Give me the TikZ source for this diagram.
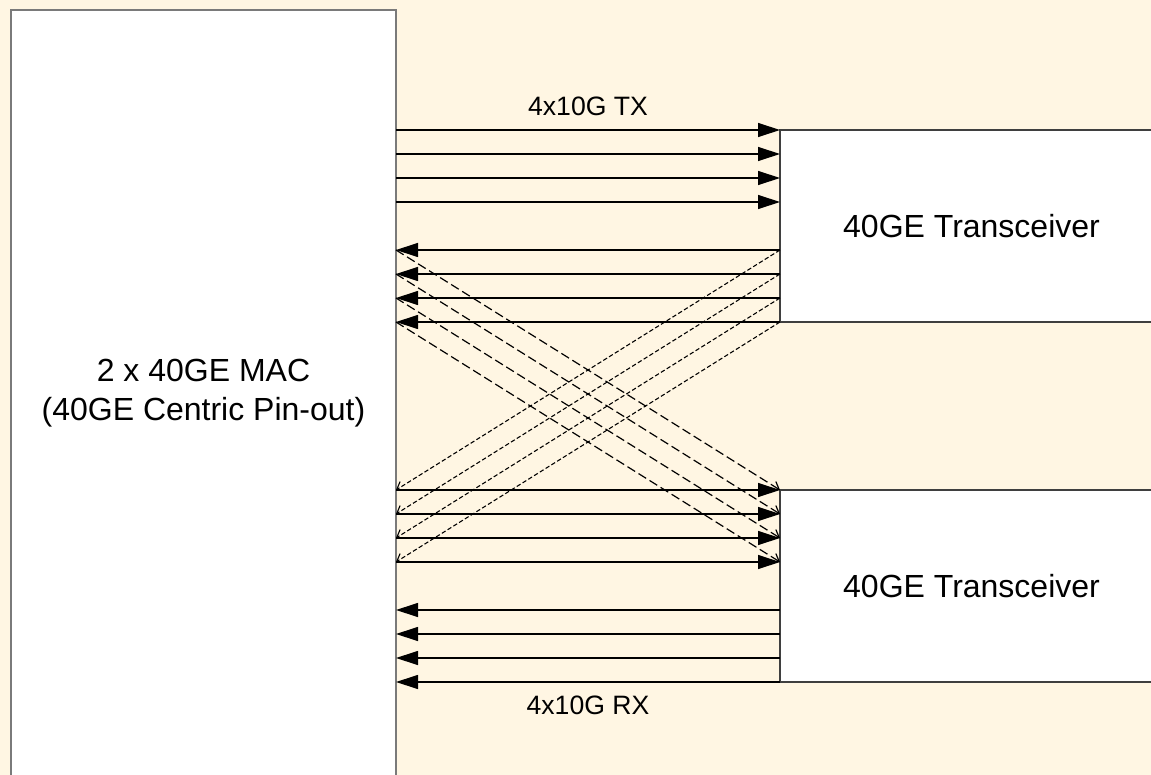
\documentclass[tikz,border=0pt]{standalone}
\usepackage{fontspec}
\setmainfont{Liberation Sans}
\usetikzlibrary{arrows.meta,calc}
\definecolor{bg}{HTML}{FFF6E3}
\definecolor{macedge}{HTML}{7A7A7A}
\definecolor{boxedge}{HTML}{3F3F3F}
\begin{document}
\begin{tikzpicture}[x=0.5pt,y=-0.5pt,
  macbox/.style={draw=macedge, line width=1pt, fill=white, anchor=north west,
    inner sep=0pt, outer sep=0pt, minimum width=192.5pt, minimum height=390pt},
  trbox/.style={draw=boxedge, line width=0.55pt, fill=white, anchor=north west,
    inner sep=0pt, outer sep=0pt, minimum width=191.5pt, minimum height=96pt,
    font=\fontsize{16}{19.5}\selectfont},
  bigtext/.style={font=\fontsize{16}{19.5}\selectfont, align=center, inner sep=0pt},
  smalltext/.style={font=\fontsize{13.3}{16}\selectfont, inner sep=0pt},
  solidarr/.style={draw=black, line width=0.6pt, -{Triangle[length=11pt,width=7pt]}},
  longdash/.style={draw=black, line width=0.6pt, dash pattern=on 4.5pt off 2pt,
    -{Straight Barb[length=3.5pt,width=5pt]}},
  shortdash/.style={draw=black, line width=0.55pt, dash pattern=on 2.2pt off 1.2pt,
    -{Straight Barb[length=3.5pt,width=5pt]}}]
\useasboundingbox (0,0) rectangle (1151,775);
\fill[bg] (0,0) rectangle (1151,775);
\clip (0,0) rectangle (1151,775);

% boxes
\node[macbox] (mac) at (11,10) {};
\node[bigtext] (mactext) at (203.5,393.5) {2 x 40GE MAC\\(40GE Centric Pin-out)};
\node[trbox] (tr1) at (780,130) {40GE Transceiver};
\node[trbox] (tr2) at (780,490) {40GE Transceiver};

% labels
\node[smalltext] (txlabel) at (588,106.5) {4x10G TX};
\node[smalltext] (rxlabel) at (588,705) {4x10G RX};

% ports on the transceivers
\foreach \i in {0,...,8} {
  \coordinate (a\i) at ($(tr1.north west)!\i/8!(tr1.south west)$);
  \coordinate (b\i) at ($(tr2.north west)!\i/8!(tr2.south west)$);
}

% solid connections
\foreach \i in {0,...,3} {
  \draw[solidarr] (mac.east |- a\i) -- (a\i);
  \draw[solidarr] (mac.east |- b\i) -- (b\i);
}
\foreach \i in {5,...,8} {
  \draw[solidarr] (a\i) -- (mac.east |- a\i);
  \draw[solidarr] (b\i) -- (mac.east |- b\i);
}

% crossed dashed connections
\foreach \i in {0,...,3} {
  \pgfmathtruncatemacro{\j}{\i+5}
  \draw[longdash] (mac.east |- a\j) -- (b\i);
  \draw[shortdash] (a\j) -- (mac.east |- b\i);
}
\end{tikzpicture}
\end{document}
